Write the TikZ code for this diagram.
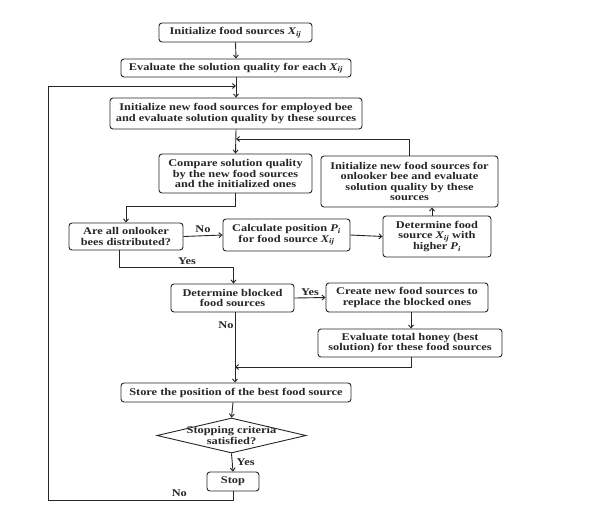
\documentclass[tikz,border=0pt]{standalone}
\usepackage{fontspec}
\setmainfont[FakeStretch=1.2]{Liberation Serif}
\usetikzlibrary{arrows.meta,shapes.geometric}
\newcommand\myvar[2]{{\itshape #1}\textsubscript{\itshape #2}}
\begin{document}
\begin{tikzpicture}[x=1pt,y=-1pt,
  box/.style={draw=black!85, line width=0.9pt, rounded corners=3pt, align=center, inner sep=0pt,
    font=\fontsize{10.3}{10.6}\selectfont\bfseries, text=black!85},
  lbl/.style={font=\fontsize{10.3}{10.6}\selectfont\bfseries, text=black!85, inner sep=1pt},
  conn/.style={draw=black!85, line width=0.9pt},
  arr/.style={conn, -{Straight Barb[length=3pt,width=5pt]}}]
\useasboundingbox (0,0) rectangle (593,517);
\node[box, minimum width=153pt, minimum height=19pt] (b1) at (235.5,32.5) {Initialize food sources \myvar{X}{ij}};
\node[box, minimum width=230pt, minimum height=18pt] (b2) at (236,68) {Evaluate the solution quality for each \myvar{X}{ij}};
\node[box, minimum width=252pt, minimum height=31pt] (b3) at (236,113.5) {Initialize new food sources for employed bee\\and evaluate solution quality by these sources};
\node[box, minimum width=153pt, minimum height=39pt] (b4) at (235.5,173.5) {Compare solution quality\\by the new food sources\\and the initialized ones};
\node[box, minimum width=177pt, minimum height=51pt] (b5) at (409.5,181.5) {Initialize new food sources for\\onlooker bee and evaluate\\solution quality by these\\sources};
\node[box, minimum width=114pt, minimum height=27pt] (b6) at (126,236.5) {Are all onlooker\\bees distributed?};
\node[box, minimum width=127pt, minimum height=32pt] (b7) at (286.5,235) {Calculate position \myvar{P}{i}\\for food source \myvar{X}{ij}};
\node[box, minimum width=108pt, minimum height=41pt] (b8) at (437,236.5) {Determine food\\source \myvar{X}{ij} with\\higher \myvar{P}{i}};
\node[box, minimum width=123pt, minimum height=28pt] (b9) at (232.5,298) {Determine blocked\\food sources};
\node[box, minimum width=162pt, minimum height=29pt] (b10) at (407,297.5) {Create new food sources to\\replace the blocked ones};
\node[box, minimum width=184pt, minimum height=28pt] (b11) at (410,343) {Evaluate total honey (best\\solution) for these food sources};
\node[box, minimum width=230pt, minimum height=19pt] (b12) at (236,392.5) {Store the position of the best food source};
\node[draw=black!85, line width=0.9pt, diamond, inner sep=0pt, minimum width=149pt, minimum height=35pt,
  label={[lbl, align=center]center:Stopping criteria\\satisfied?}] (d) at (231.5,435.5) {};
\node[box, minimum width=52pt, minimum height=19pt] (st) at (233,481.5) {Stop};
% connectors
\draw[arr] (b1.south) -- (b2.north);
\draw[arr] (b2.south) -- (b3.north);
\coordinate (loopend) at (b3.north |- 0,86);
\coordinate (c1) at (st.south |- 0,500);
\draw[arr] (st.south) -- (c1) -- (48,500) node[lbl, pos=0.29, yshift=7pt] {No} -- (48,86) -- (loopend);
\draw[arr] (b3.south) -- (b4.north);
\coordinate (fb) at (b3.south |- 0,139);
\draw[arr] (b5.north) |- (fb);
\coordinate (c2) at (b4.south |- 0,206);
\draw[arr] (b4.south) -- (c2) -| (b6.north);
\draw[arr] (b6.east) -- (b7.west) node[lbl, midway, above, yshift=2pt] {No};
\draw[arr] (b7.east) -- (b8.west);
\draw[arr] ([xshift=-5pt]b8.north) -- ([xshift=-5pt]b8.north |- b5.south);
\coordinate (c3) at ([xshift=-7pt]b6.south |- 0,267);
\draw[arr] ([xshift=-7pt]b6.south) -- (c3) node[lbl, xshift=68pt, yshift=6pt] {Yes} -| ([xshift=1pt]b9.north);
\draw[arr] (b9.east) -- (b10.west) node[lbl, midway, above, yshift=1pt] {Yes};
\draw[arr] ([xshift=4pt]b10.south) -- ([xshift=4pt]b10.south |- b11.north);
\coordinate (c4) at ([xshift=1pt]b11.south |- 0,367);
\coordinate (c5) at ([xshift=2.5pt]b9.south |- 0,367);
\draw[arr] ([xshift=1pt]b11.south) -- (c4) -- (c5);
\draw[arr] ([xshift=2.5pt]b9.south) -- ([xshift=2.5pt]b9.south |- b12.north) node[lbl, pos=0.18, left] {No};
\draw[arr] ([xshift=-3pt]b12.south) -- (d.north);
\draw[arr] (d.south) -- (st.north) node[lbl, midway, right, xshift=3pt] {Yes};
\end{tikzpicture}
\end{document}
